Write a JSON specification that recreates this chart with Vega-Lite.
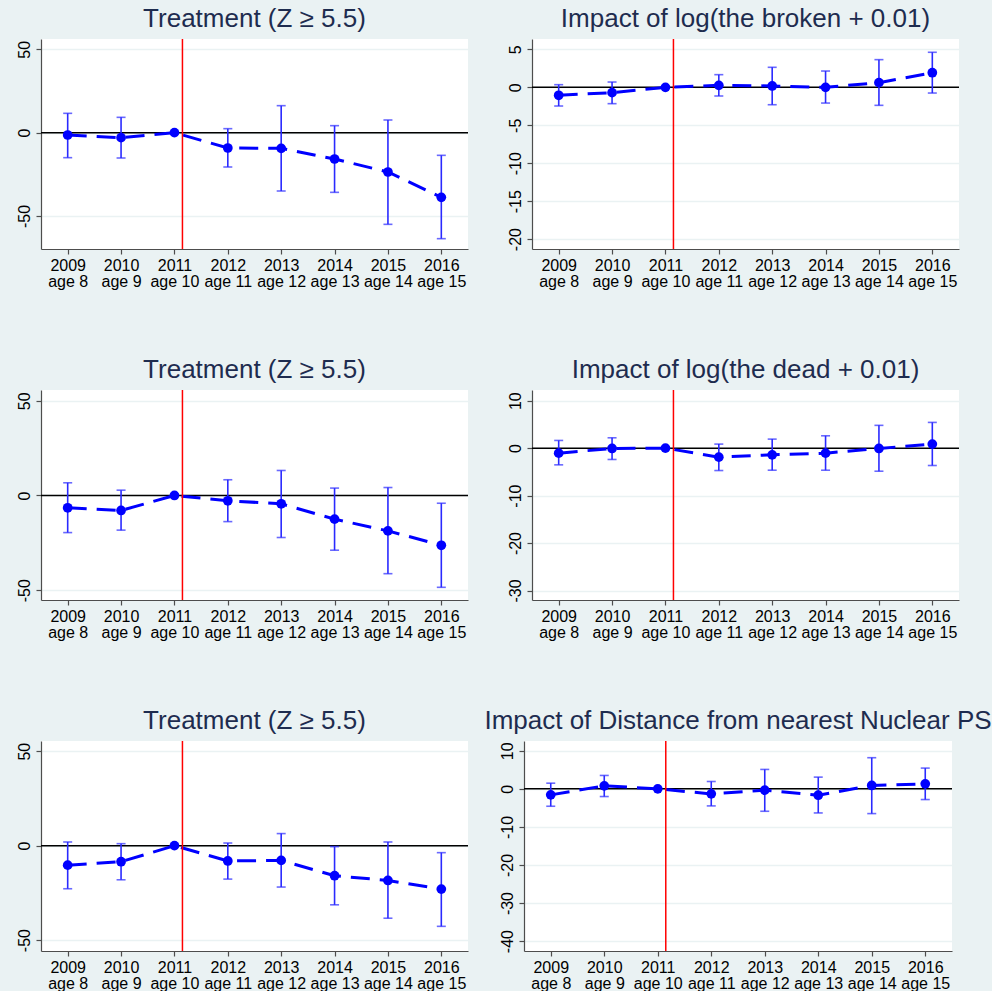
{
  "$schema": "https://vega.github.io/schema/vega-lite/v6.json",
  "background": "#EAF2F3",
  "padding": {"left": 16, "top": 6, "right": 0, "bottom": 0},
  "config": {
    "font": "Liberation Sans",
    "view": {"stroke": null, "fill": "white"},
    "axis": {"domainColor": "#4d4d4d", "tickColor": "#4d4d4d", "labelColor": "#000000", "labelFontSize": 16, "labelFont": "Liberation Sans", "tickSize": 5, "gridColor": "#EAF2F3", "gridWidth": 1.5, "domainWidth": 1.2, "tickWidth": 1.2},
    "title": {"font": "Liberation Sans", "fontSize": 26, "fontWeight": "normal", "color": "#1e2c4f", "anchor": "middle", "offset": 6}
  },
  "datasets": {
    "p1": [
      {"year": 2009, "b": -1.4, "lo": -15.0, "hi": 11.6},
      {"year": 2010, "b": -3.0, "lo": -15.2, "hi": 9.2},
      {"year": 2011, "b": 0},
      {"year": 2012, "b": -9.2, "lo": -20.6, "hi": 2.4},
      {"year": 2013, "b": -9.4, "lo": -35.0, "hi": 16.2},
      {"year": 2014, "b": -15.8, "lo": -35.8, "hi": 4.2},
      {"year": 2015, "b": -23.6, "lo": -55.0, "hi": 7.6},
      {"year": 2016, "b": -38.8, "lo": -63.6, "hi": -13.6}
    ],
    "p2": [
      {"year": 2009, "b": -1.05, "lo": -2.46, "hi": 0.35},
      {"year": 2010, "b": -0.7, "lo": -2.15, "hi": 0.7},
      {"year": 2011, "b": 0},
      {"year": 2012, "b": 0.26, "lo": -1.14, "hi": 1.67},
      {"year": 2013, "b": 0.18, "lo": -2.29, "hi": 2.64},
      {"year": 2014, "b": 0.0, "lo": -2.07, "hi": 2.15},
      {"year": 2015, "b": 0.62, "lo": -2.37, "hi": 3.65},
      {"year": 2016, "b": 1.93, "lo": -0.75, "hi": 4.62}
    ],
    "p3": [
      {"year": 2009, "b": -6.5, "lo": -19.6, "hi": 6.7},
      {"year": 2010, "b": -7.9, "lo": -18.3, "hi": 2.8},
      {"year": 2011, "b": 0},
      {"year": 2012, "b": -2.8, "lo": -13.8, "hi": 8.3},
      {"year": 2013, "b": -4.4, "lo": -22.2, "hi": 13.2},
      {"year": 2014, "b": -12.5, "lo": -28.9, "hi": 3.9},
      {"year": 2015, "b": -18.7, "lo": -41.3, "hi": 4.2},
      {"year": 2016, "b": -26.3, "lo": -48.5, "hi": -4.1}
    ],
    "p4": [
      {"year": 2009, "b": -1.06, "lo": -3.52, "hi": 1.62},
      {"year": 2010, "b": -0.07, "lo": -2.39, "hi": 2.18},
      {"year": 2011, "b": 0},
      {"year": 2012, "b": -1.9, "lo": -4.72, "hi": 0.85},
      {"year": 2013, "b": -1.41, "lo": -4.65, "hi": 1.9},
      {"year": 2014, "b": -1.06, "lo": -4.65, "hi": 2.6},
      {"year": 2015, "b": -0.07, "lo": -4.86, "hi": 4.8},
      {"year": 2016, "b": 0.85, "lo": -3.66, "hi": 5.42}
    ],
    "p5": [
      {"year": 2009, "b": -10.3, "lo": -22.8, "hi": 1.95},
      {"year": 2010, "b": -8.5, "lo": -18.05, "hi": 1.06},
      {"year": 2011, "b": 0},
      {"year": 2012, "b": -8.1, "lo": -17.7, "hi": 1.4},
      {"year": 2013, "b": -7.8, "lo": -21.9, "hi": 6.4},
      {"year": 2014, "b": -15.9, "lo": -31.3, "hi": -0.5},
      {"year": 2015, "b": -18.4, "lo": -38.4, "hi": 1.95},
      {"year": 2016, "b": -23.0, "lo": -42.7, "hi": -3.7}
    ],
    "p6": [
      {"year": 2009, "b": -1.58, "lo": -4.57, "hi": 1.49},
      {"year": 2010, "b": 0.79, "lo": -2.02, "hi": 3.52},
      {"year": 2011, "b": 0},
      {"year": 2012, "b": -1.32, "lo": -4.48, "hi": 1.93},
      {"year": 2013, "b": -0.35, "lo": -5.89, "hi": 5.1},
      {"year": 2014, "b": -1.67, "lo": -6.33, "hi": 3.08},
      {"year": 2015, "b": 0.88, "lo": -6.5, "hi": 8.18},
      {"year": 2016, "b": 1.32, "lo": -2.81, "hi": 5.45}
    ]
  },
  "spacing": 68,
  "vconcat": [
    {
      "bounds": "flush",
      "spacing": 64,
      "hconcat": [
        {
          "title": "Treatment (Z ≥ 5.5)",
          "width": 427, "height": 210,
          "data": {"name": "p1"},
          "layer": [
            {"mark": {"type": "rule", "strokeWidth": 0}, "encoding": {
              "x": {"field": "year", "type": "quantitative", "title": null, "scale": {"domain": [2008.5, 2016.5], "nice": false, "zero": false}, "axis": {"values": [2009, 2010, 2011, 2012, 2013, 2014, 2015, 2016], "grid": false, "labelExpr": "[datum.value, 'age ' + (datum.value - 2001)]", "labelLineHeight": 16, "labelPadding": 3, "labelFlush": false}},
              "y": {"field": "b", "type": "quantitative", "title": null, "scale": {"domain": [-69.8, 56.2], "nice": false, "zero": false}, "axis": {"values": [-50, 0, 50], "grid": true, "labelExpr": "'' + datum.value", "labelAngle": -90, "labelAlign": "center", "labelBaseline": "bottom", "labelPadding": 4}}}},
            {"data": {"values": [{}]}, "mark": {"type": "rule", "color": "#000000", "strokeWidth": 1.5}, "encoding": {"y": {"datum": 0, "type": "quantitative", "title": null}}},
            {"mark": {"type": "errorbar", "ticks": {"size": 9, "thickness": 1.6, "color": "#2a2aff"}, "rule": {"strokeWidth": 1.6, "color": "#2a2aff"}}, "encoding": {"x": {"field": "year", "type": "quantitative", "title": null}, "y": {"field": "lo", "type": "quantitative", "title": null}, "y2": {"field": "hi"}}},
            {"mark": {"type": "line", "color": "#0000ff", "strokeWidth": 3, "strokeDash": [19, 10]}, "encoding": {"x": {"field": "year", "type": "quantitative", "title": null}, "y": {"field": "b", "type": "quantitative", "title": null}}},
            {"data": {"values": [{}]}, "mark": {"type": "rule", "color": "#ff0000", "strokeWidth": 1.5}, "encoding": {"x": {"datum": 2011.15, "type": "quantitative", "title": null}}},
            {"mark": {"type": "point", "filled": true, "opacity": 1, "color": "#0000ff", "size": 95}, "encoding": {"x": {"field": "year", "type": "quantitative", "title": null}, "y": {"field": "b", "type": "quantitative", "title": null}}}
          ]
        },
        {
          "title": "Impact of log(the broken + 0.01)",
          "width": 427, "height": 210,
          "data": {"name": "p2"},
          "layer": [
            {"mark": {"type": "rule", "strokeWidth": 0}, "encoding": {
              "x": {"field": "year", "type": "quantitative", "title": null, "scale": {"domain": [2008.5, 2016.5], "nice": false, "zero": false}, "axis": {"values": [2009, 2010, 2011, 2012, 2013, 2014, 2015, 2016], "grid": false, "labelExpr": "[datum.value, 'age ' + (datum.value - 2001)]", "labelLineHeight": 16, "labelPadding": 3, "labelFlush": false}},
              "y": {"field": "b", "type": "quantitative", "title": null, "scale": {"domain": [-21.3, 6.37], "nice": false, "zero": false}, "axis": {"values": [-20, -15, -10, -5, 0, 5], "grid": true, "labelExpr": "'' + datum.value", "labelAngle": -90, "labelAlign": "center", "labelBaseline": "bottom", "labelPadding": 4}}}},
            {"data": {"values": [{}]}, "mark": {"type": "rule", "color": "#000000", "strokeWidth": 1.5}, "encoding": {"y": {"datum": 0, "type": "quantitative", "title": null}}},
            {"mark": {"type": "errorbar", "ticks": {"size": 9, "thickness": 1.6, "color": "#2a2aff"}, "rule": {"strokeWidth": 1.6, "color": "#2a2aff"}}, "encoding": {"x": {"field": "year", "type": "quantitative", "title": null}, "y": {"field": "lo", "type": "quantitative", "title": null}, "y2": {"field": "hi"}}},
            {"mark": {"type": "line", "color": "#0000ff", "strokeWidth": 3, "strokeDash": [19, 10]}, "encoding": {"x": {"field": "year", "type": "quantitative", "title": null}, "y": {"field": "b", "type": "quantitative", "title": null}}},
            {"data": {"values": [{}]}, "mark": {"type": "rule", "color": "#ff0000", "strokeWidth": 1.5}, "encoding": {"x": {"datum": 2011.15, "type": "quantitative", "title": null}}},
            {"mark": {"type": "point", "filled": true, "opacity": 1, "color": "#0000ff", "size": 95}, "encoding": {"x": {"field": "year", "type": "quantitative", "title": null}, "y": {"field": "b", "type": "quantitative", "title": null}}}
          ]
        }
      ]
    },
    {
      "bounds": "flush",
      "spacing": 64,
      "hconcat": [
        {
          "title": "Treatment (Z ≥ 5.5)",
          "width": 427, "height": 210,
          "data": {"name": "p3"},
          "layer": [
            {"mark": {"type": "rule", "strokeWidth": 0}, "encoding": {
              "x": {"field": "year", "type": "quantitative", "title": null, "scale": {"domain": [2008.5, 2016.5], "nice": false, "zero": false}, "axis": {"values": [2009, 2010, 2011, 2012, 2013, 2014, 2015, 2016], "grid": false, "labelExpr": "[datum.value, 'age ' + (datum.value - 2001)]", "labelLineHeight": 16, "labelPadding": 3, "labelFlush": false}},
              "y": {"field": "b", "type": "quantitative", "title": null, "scale": {"domain": [-55.2, 55.7], "nice": false, "zero": false}, "axis": {"values": [-50, 0, 50], "grid": true, "labelExpr": "'' + datum.value", "labelAngle": -90, "labelAlign": "center", "labelBaseline": "bottom", "labelPadding": 4}}}},
            {"data": {"values": [{}]}, "mark": {"type": "rule", "color": "#000000", "strokeWidth": 1.5}, "encoding": {"y": {"datum": 0, "type": "quantitative", "title": null}}},
            {"mark": {"type": "errorbar", "ticks": {"size": 9, "thickness": 1.6, "color": "#2a2aff"}, "rule": {"strokeWidth": 1.6, "color": "#2a2aff"}}, "encoding": {"x": {"field": "year", "type": "quantitative", "title": null}, "y": {"field": "lo", "type": "quantitative", "title": null}, "y2": {"field": "hi"}}},
            {"mark": {"type": "line", "color": "#0000ff", "strokeWidth": 3, "strokeDash": [19, 10]}, "encoding": {"x": {"field": "year", "type": "quantitative", "title": null}, "y": {"field": "b", "type": "quantitative", "title": null}}},
            {"data": {"values": [{}]}, "mark": {"type": "rule", "color": "#ff0000", "strokeWidth": 1.5}, "encoding": {"x": {"datum": 2011.15, "type": "quantitative", "title": null}}},
            {"mark": {"type": "point", "filled": true, "opacity": 1, "color": "#0000ff", "size": 95}, "encoding": {"x": {"field": "year", "type": "quantitative", "title": null}, "y": {"field": "b", "type": "quantitative", "title": null}}}
          ]
        },
        {
          "title": "Impact of log(the dead + 0.01)",
          "width": 427, "height": 210,
          "data": {"name": "p4"},
          "layer": [
            {"mark": {"type": "rule", "strokeWidth": 0}, "encoding": {
              "x": {"field": "year", "type": "quantitative", "title": null, "scale": {"domain": [2008.5, 2016.5], "nice": false, "zero": false}, "axis": {"values": [2009, 2010, 2011, 2012, 2013, 2014, 2015, 2016], "grid": false, "labelExpr": "[datum.value, 'age ' + (datum.value - 2001)]", "labelLineHeight": 16, "labelPadding": 3, "labelFlush": false}},
              "y": {"field": "b", "type": "quantitative", "title": null, "scale": {"domain": [-32.0, 12.25], "nice": false, "zero": false}, "axis": {"values": [-30, -20, -10, 0, 10], "grid": true, "labelExpr": "'' + datum.value", "labelAngle": -90, "labelAlign": "center", "labelBaseline": "bottom", "labelPadding": 4}}}},
            {"data": {"values": [{}]}, "mark": {"type": "rule", "color": "#000000", "strokeWidth": 1.5}, "encoding": {"y": {"datum": 0, "type": "quantitative", "title": null}}},
            {"mark": {"type": "errorbar", "ticks": {"size": 9, "thickness": 1.6, "color": "#2a2aff"}, "rule": {"strokeWidth": 1.6, "color": "#2a2aff"}}, "encoding": {"x": {"field": "year", "type": "quantitative", "title": null}, "y": {"field": "lo", "type": "quantitative", "title": null}, "y2": {"field": "hi"}}},
            {"mark": {"type": "line", "color": "#0000ff", "strokeWidth": 3, "strokeDash": [19, 10]}, "encoding": {"x": {"field": "year", "type": "quantitative", "title": null}, "y": {"field": "b", "type": "quantitative", "title": null}}},
            {"data": {"values": [{}]}, "mark": {"type": "rule", "color": "#ff0000", "strokeWidth": 1.5}, "encoding": {"x": {"datum": 2011.15, "type": "quantitative", "title": null}}},
            {"mark": {"type": "point", "filled": true, "opacity": 1, "color": "#0000ff", "size": 95}, "encoding": {"x": {"field": "year", "type": "quantitative", "title": null}, "y": {"field": "b", "type": "quantitative", "title": null}}}
          ]
        }
      ]
    },
    {
      "bounds": "flush",
      "spacing": 56,
      "hconcat": [
        {
          "title": "Treatment (Z ≥ 5.5)",
          "width": 427, "height": 210,
          "data": {"name": "p5"},
          "layer": [
            {"mark": {"type": "rule", "strokeWidth": 0}, "encoding": {
              "x": {"field": "year", "type": "quantitative", "title": null, "scale": {"domain": [2008.5, 2016.5], "nice": false, "zero": false}, "axis": {"values": [2009, 2010, 2011, 2012, 2013, 2014, 2015, 2016], "grid": false, "labelExpr": "[datum.value, 'age ' + (datum.value - 2001)]", "labelLineHeight": 16, "labelPadding": 3, "labelFlush": false}},
              "y": {"field": "b", "type": "quantitative", "title": null, "scale": {"domain": [-55.75, 55.4], "nice": false, "zero": false}, "axis": {"values": [-50, 0, 50], "grid": true, "labelExpr": "'' + datum.value", "labelAngle": -90, "labelAlign": "center", "labelBaseline": "bottom", "labelPadding": 4}}}},
            {"data": {"values": [{}]}, "mark": {"type": "rule", "color": "#000000", "strokeWidth": 1.5}, "encoding": {"y": {"datum": 0, "type": "quantitative", "title": null}}},
            {"mark": {"type": "errorbar", "ticks": {"size": 9, "thickness": 1.6, "color": "#2a2aff"}, "rule": {"strokeWidth": 1.6, "color": "#2a2aff"}}, "encoding": {"x": {"field": "year", "type": "quantitative", "title": null}, "y": {"field": "lo", "type": "quantitative", "title": null}, "y2": {"field": "hi"}}},
            {"mark": {"type": "line", "color": "#0000ff", "strokeWidth": 3, "strokeDash": [19, 10]}, "encoding": {"x": {"field": "year", "type": "quantitative", "title": null}, "y": {"field": "b", "type": "quantitative", "title": null}}},
            {"data": {"values": [{}]}, "mark": {"type": "rule", "color": "#ff0000", "strokeWidth": 1.5}, "encoding": {"x": {"datum": 2011.15, "type": "quantitative", "title": null}}},
            {"mark": {"type": "point", "filled": true, "opacity": 1, "color": "#0000ff", "size": 95}, "encoding": {"x": {"field": "year", "type": "quantitative", "title": null}, "y": {"field": "b", "type": "quantitative", "title": null}}}
          ]
        },
        {
          "title": "Impact of Distance from nearest Nuclear PS",
          "width": 428, "height": 210,
          "data": {"name": "p6"},
          "layer": [
            {"mark": {"type": "rule", "strokeWidth": 0}, "encoding": {
              "x": {"field": "year", "type": "quantitative", "title": null, "scale": {"domain": [2008.5, 2016.5], "nice": false, "zero": false}, "axis": {"values": [2009, 2010, 2011, 2012, 2013, 2014, 2015, 2016], "grid": false, "labelExpr": "[datum.value, 'age ' + (datum.value - 2001)]", "labelLineHeight": 16, "labelPadding": 3, "labelFlush": false}},
              "y": {"field": "b", "type": "quantitative", "title": null, "scale": {"domain": [-42.6, 12.57], "nice": false, "zero": false}, "axis": {"values": [-40, -30, -20, -10, 0, 10], "grid": true, "labelExpr": "'' + datum.value", "labelAngle": -90, "labelAlign": "center", "labelBaseline": "bottom", "labelPadding": 4}}}},
            {"data": {"values": [{}]}, "mark": {"type": "rule", "color": "#000000", "strokeWidth": 1.5}, "encoding": {"y": {"datum": 0, "type": "quantitative", "title": null}}},
            {"mark": {"type": "errorbar", "ticks": {"size": 9, "thickness": 1.6, "color": "#2a2aff"}, "rule": {"strokeWidth": 1.6, "color": "#2a2aff"}}, "encoding": {"x": {"field": "year", "type": "quantitative", "title": null}, "y": {"field": "lo", "type": "quantitative", "title": null}, "y2": {"field": "hi"}}},
            {"mark": {"type": "line", "color": "#0000ff", "strokeWidth": 3, "strokeDash": [19, 10]}, "encoding": {"x": {"field": "year", "type": "quantitative", "title": null}, "y": {"field": "b", "type": "quantitative", "title": null}}},
            {"data": {"values": [{}]}, "mark": {"type": "rule", "color": "#ff0000", "strokeWidth": 1.5}, "encoding": {"x": {"datum": 2011.15, "type": "quantitative", "title": null}}},
            {"mark": {"type": "point", "filled": true, "opacity": 1, "color": "#0000ff", "size": 95}, "encoding": {"x": {"field": "year", "type": "quantitative", "title": null}, "y": {"field": "b", "type": "quantitative", "title": null}}}
          ]
        }
      ]
    }
  ]
}
